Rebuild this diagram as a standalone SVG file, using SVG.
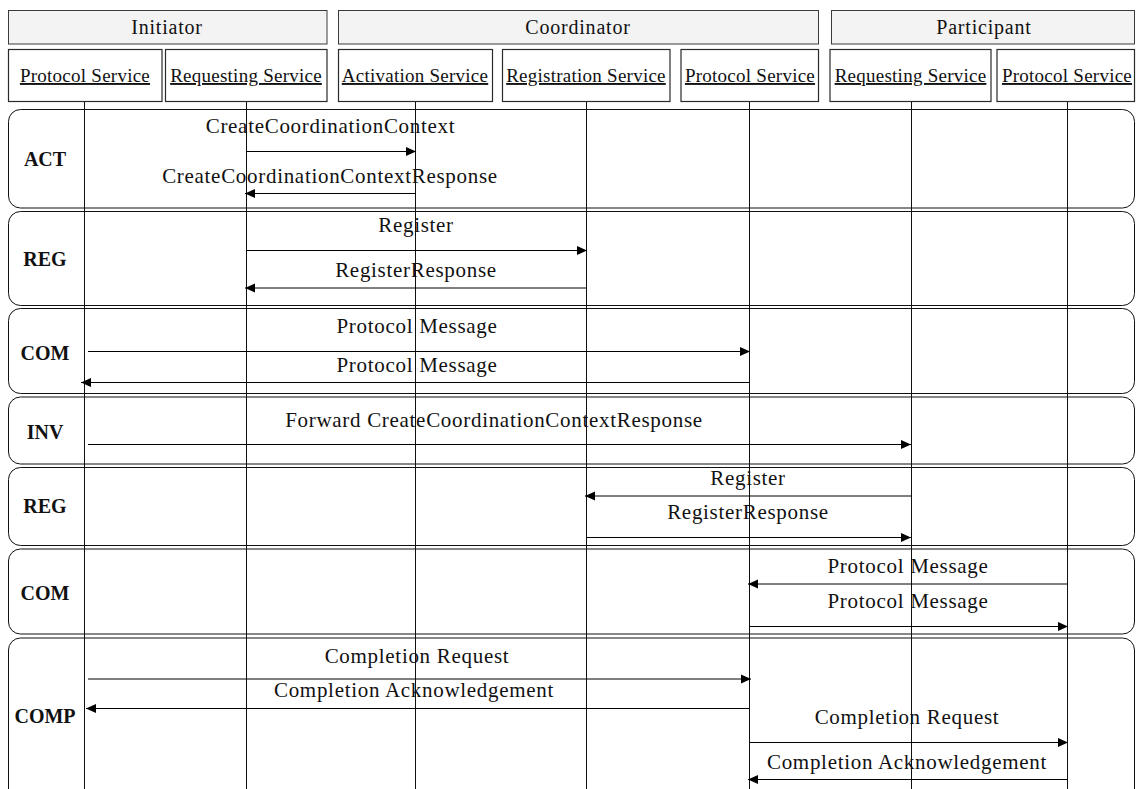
<svg xmlns="http://www.w3.org/2000/svg" width="1136" height="789" viewBox="0 0 1136 789">
<defs>
<style>
.grp{fill:#f3f3f3;stroke:#3a3a3a;stroke-width:1}
.svc{fill:#fff;stroke:#2a2a2a;stroke-width:1.2}
.gt{font-family:"Liberation Serif",serif;font-size:20px;letter-spacing:0.8px;text-anchor:middle;fill:#111}
.st{font-family:"Liberation Serif",serif;font-size:19px;letter-spacing:0.25px;text-anchor:middle;fill:#111;text-decoration:underline}
.sec{fill:#fff;stroke:#111;stroke-width:1}
.sl{font-family:"Liberation Serif",serif;font-size:20px;font-weight:bold;text-anchor:middle;fill:#111}
.life{stroke:#111;stroke-width:1}
.msg{stroke:#000;stroke-width:1;fill:none;marker-end:url(#ah)}
.ml{font-family:"Liberation Serif",serif;font-size:21px;letter-spacing:0.7px;text-anchor:middle;fill:#111}
</style>
<marker id="ah" markerWidth="10" markerHeight="10" refX="10" refY="5" orient="auto" markerUnits="userSpaceOnUse"><path d="M0,0.5 L10,5 L0,9.5 z" fill="#000"/></marker>
</defs>
<rect width="1136" height="789" fill="#fff"/>

<g id="sections">
<g id="sec-act"><rect class="sec" x="8.5" y="109.5" width="1126" height="98.5" rx="12"/><text class="sl" x="45" y="166">ACT</text></g>
<g id="sec-reg1"><rect class="sec" x="8.5" y="211.5" width="1126" height="94" rx="12"/><text class="sl" x="45" y="265.5">REG</text></g>
<g id="sec-com1"><rect class="sec" x="8.5" y="308.5" width="1126" height="85" rx="12"/><text class="sl" x="45" y="360">COM</text></g>
<g id="sec-inv"><rect class="sec" x="8.5" y="397" width="1126" height="67" rx="12"/><text class="sl" x="45" y="438.5">INV</text></g>
<g id="sec-reg2"><rect class="sec" x="8.5" y="467.5" width="1126" height="78" rx="12"/><text class="sl" x="45" y="512.5">REG</text></g>
<g id="sec-com2"><rect class="sec" x="8.5" y="549" width="1126" height="85" rx="12"/><text class="sl" x="45" y="599.5">COM</text></g>
<g id="sec-comp"><rect class="sec" x="8.5" y="638" width="1126" height="180" rx="12"/><text class="sl" x="45" y="722.5">COMP</text></g>
</g>

<g id="groups">
<g id="initiator"><rect class="grp" x="8.5" y="10.5" width="318.5" height="33.5"/><text class="gt" x="167" y="33.5">Initiator</text></g>
<g id="coordinator"><rect class="grp" x="338.5" y="10.5" width="480" height="33.5"/><text class="gt" x="578" y="33.5">Coordinator</text></g>
<g id="participant"><rect class="grp" x="831.5" y="10.5" width="303" height="33.5"/><text class="gt" x="984" y="33.5">Participant</text></g>
</g>

<g id="services">
<g id="i-protocol"><rect class="svc" x="8.5" y="49.5" width="153.5" height="52"/><line class="life" x1="84.5" y1="102" x2="84.5" y2="789"/><text class="st" x="85" y="82">Protocol Service</text></g>
<g id="i-requesting"><rect class="svc" x="165.5" y="49.5" width="161.5" height="52"/><line class="life" x1="246.5" y1="102" x2="246.5" y2="789"/><text class="st" x="246" y="82">Requesting Service</text></g>
<g id="c-activation"><rect class="svc" x="338.5" y="49.5" width="154" height="52"/><line class="life" x1="415.5" y1="102" x2="415.5" y2="789"/><text class="st" x="415" y="82">Activation Service</text></g>
<g id="c-registration"><rect class="svc" x="502.5" y="49.5" width="167.5" height="52"/><line class="life" x1="586.5" y1="102" x2="586.5" y2="789"/><text class="st" x="586" y="82">Registration Service</text></g>
<g id="c-protocol"><rect class="svc" x="681" y="49.5" width="137.5" height="52"/><line class="life" x1="749.5" y1="102" x2="749.5" y2="789"/><text class="st" x="750" y="82">Protocol Service</text></g>
<g id="p-requesting"><rect class="svc" x="830" y="49.5" width="161" height="52"/><line class="life" x1="911.5" y1="102" x2="911.5" y2="789"/><text class="st" x="910.5" y="82">Requesting Service</text></g>
<g id="p-protocol"><rect class="svc" x="997" y="49.5" width="137.5" height="52"/><line class="life" x1="1067.5" y1="102" x2="1067.5" y2="789"/><text class="st" x="1067" y="82">Protocol Service</text></g>
</g>

<g id="connectors">
<line class="msg" x1="246.5" y1="151.5" x2="416" y2="151.5"/>
<text class="ml" x="330.5" y="133">CreateCoordinationContext</text>
<line class="msg" x1="415.5" y1="193.5" x2="245" y2="193.5"/>
<text class="ml" x="330" y="183">CreateCoordinationContextResponse</text>
<line class="msg" x1="246.5" y1="250.5" x2="587" y2="250.5"/>
<text class="ml" x="416" y="232">Register</text>
<line class="msg" x1="586.5" y1="288" x2="245" y2="288"/>
<text class="ml" x="416" y="277">RegisterResponse</text>
<line class="msg" x1="88" y1="351.5" x2="750" y2="351.5"/>
<text class="ml" x="417" y="332.5">Protocol Message</text>
<line class="msg" x1="749.5" y1="382.5" x2="81" y2="382.5"/>
<text class="ml" x="417" y="372">Protocol Message</text>
<line class="msg" x1="88" y1="444.5" x2="911" y2="444.5"/>
<text class="ml" x="494" y="426.5">Forward CreateCoordinationContextResponse</text>
<line class="msg" x1="911.5" y1="496" x2="585" y2="496"/>
<text class="ml" x="748" y="485">Register</text>
<line class="msg" x1="586.5" y1="537.5" x2="911" y2="537.5"/>
<text class="ml" x="748" y="519">RegisterResponse</text>
<line class="msg" x1="1067.5" y1="584" x2="748" y2="584"/>
<text class="ml" x="908" y="573">Protocol Message</text>
<line class="msg" x1="749.5" y1="626.5" x2="1068" y2="626.5"/>
<text class="ml" x="908" y="608">Protocol Message</text>
<line class="msg" x1="88" y1="679" x2="751" y2="679"/>
<text class="ml" x="417" y="663">Completion Request</text>
<line class="msg" x1="749" y1="708.5" x2="86" y2="708.5"/>
<text class="ml" x="414" y="697">Completion Acknowledgement</text>
<line class="msg" x1="749.5" y1="742.5" x2="1068" y2="742.5"/>
<text class="ml" x="907" y="724">Completion Request</text>
<line class="msg" x1="1067.5" y1="779.5" x2="748" y2="779.5"/>
<text class="ml" x="907" y="769">Completion Acknowledgement</text>
</g>
</svg>
